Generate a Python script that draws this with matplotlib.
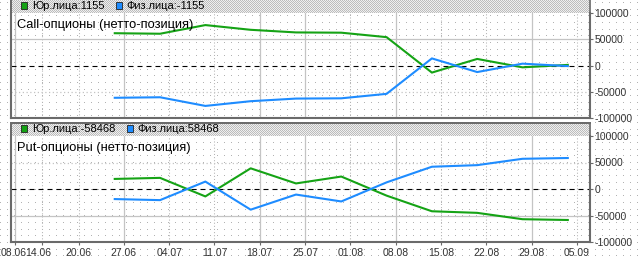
import numpy as np
import matplotlib
matplotlib.use('Agg')
import matplotlib.pyplot as plt
from matplotlib.patches import Patch
from matplotlib.transforms import ScaledTranslation

plt.rcParams['font.family'] = ['Liberation Sans', 'DejaVu Sans']
plt.rcParams['axes.unicode_minus'] = False

# data: weekly net positions (tuesdays), 2012
dates = ['2012-06-26', '2012-07-03', '2012-07-10', '2012-07-17', '2012-07-24', '2012-07-31',
         '2012-08-07', '2012-08-14', '2012-08-21', '2012-08-28', '2012-09-04']
call_jur = [61500, 60500, 77000, 68000, 63000, 62500, 54000, -13500, 12500, -3500, 1155]
call_fiz = [-61500, -60500, -77000, -68000, -63000, -62500, -54000, 13500, -12500, 3500, -1155]
put_jur = [19000, 21000, -14000, 39000, 10500, 23500, -12500, -42000, -45000, -57000, -58468]
put_fiz = [-19000, -21000, 14000, -39000, -10500, -23500, 12500, 42000, 45000, 57000, 58468]

tick_labels = ['08.06', '14.06', '20.06', '27.06', '04.07', '11.07', '18.07', '25.07',
               '01.08', '08.08', '15.08', '22.08', '29.08', '05.09']
solid_grid = ['08.06', '27.06', '18.07', '25.07', '08.08', '29.08']

# trading-day axis (weekends and 12.06 skipped)
start = '2012-06-08'
holidays = ['2012-06-12']
def bday(d):
    return np.busday_count(start, d, holidays=holidays)

x = [bday(d) for d in dates]
tick_dates = ['2012-%s-%s' % (t[3:], t[:2]) for t in tick_labels]
tick_x = [bday(d) for d in tick_dates]

W, H = 640, 262
fig = plt.figure(figsize=(W / 100, H / 100), dpi=100)
fig.patch.set_facecolor('white')

# background: dotted pattern + hatched header strips
bg = np.ones((H, W, 3))
rows = np.round(np.arange(2, H, 6.67)).astype(int)
cols = np.arange(0, W, 7)
bg[np.ix_(rows, cols)] = 0.7
for r0, r1 in [(0, 13), (122, 136)]:
    ii, jj = np.mgrid[r0:r1, 11:590]
    bg[r0:r1, 11:590] = np.where(((ii + jj) % 2 == 0)[..., None], 0.74, 0.94)
    bg[r0:r1, 10:12] = 0.42
    bg[r0:r1, 589:591] = 0.5
bg[122:124, 10:591] = 0.42
fig.figimage(bg, xo=0, yo=0, origin='upper', zorder=-10)

green = '#15a315'
blue = '#1e8cff'

def px_axes(top, bottom):
    return [11 / W, 1 - bottom / H, (590 - 11) / W, (bottom - top) / H]

panels = [
    (px_axes(13, 118), call_jur, call_fiz, 'Call-опционы (нетто-позиция)', True, False),
    (px_axes(136, 242), put_jur, put_fiz, 'Put-опционы (нетто-позиция)', False, True),
]

for rect, jur, fiz, title, top_solid, show_x in panels:
    ax = fig.add_axes(rect, zorder=1)
    ax.set_facecolor('none')
    ax.set_xlim(-0.45, 63.45)
    ax.set_ylim(-100000, 100000)

    # grid
    for t, tx in zip(tick_labels, tick_x):
        if t in solid_grid:
            ax.axvline(tx, color='#c4c4c4', lw=0.9, zorder=1)
        else:
            ax.axvline(tx, color='#b4b4b4', lw=0.75, ls=(0, (1, 2)), zorder=1)
    ax.axhline(50000, color='#c4c4c4', lw=0.9, ls='-' if top_solid else (0, (1, 2)), zorder=1)
    ax.axhline(-50000, color='#c4c4c4', lw=0.9, ls=(0, (1, 2)) if top_solid else '-', zorder=1)
    ax.axhline(0, color='black', lw=0.8, dashes=(4.5, 3.6), zorder=2)

    ax.plot(x, jur, color=green, lw=1.5, zorder=3)
    ax.plot(x, fiz, color=blue, lw=1.5, zorder=3)

    ax.text(6 / 579, 0.886, title, transform=ax.transAxes, fontsize=9.3,
            va='center', ha='left', zorder=4)

    handles = [Patch(facecolor=green, edgecolor='#222222', lw=0.6),
               Patch(facecolor=blue, edgecolor='#222222', lw=0.6)]
    labels = ['Юр.лица:%d' % jur[-1], 'Физ.лица:%d' % fiz[-1]]
    ax.legend(handles, labels, loc='center left', bbox_to_anchor=(10 / 579, 1.064),
              ncol=2, frameon=False, fontsize=8, handlelength=0.55, handleheight=0.55,
              handletextpad=0.45, columnspacing=1.0, borderpad=0, borderaxespad=0)

    for side in ['left', 'right', 'bottom']:
        ax.spines[side].set_color('#6a6a6a')
        ax.spines[side].set_linewidth(1.5)
    ax.spines['top'].set_visible(False)

    ax.yaxis.tick_right()
    ax.set_yticks([-100000, -50000, 0, 50000, 100000])
    ax.set_yticklabels(['-100000', '-50000', '0', '50000', '100000'])
    ax.tick_params(axis='y', direction='out', length=2.2, width=0.8, pad=1,
                   colors='#6a6a6a', labelcolor='#333333', labelsize=7.5)

    ax.set_xticks(tick_x)
    if show_x:
        ax.set_xticklabels(tick_labels)
        ax.tick_params(axis='x', direction='out', length=2.2, width=0.8, pad=2,
                       colors='#6a6a6a', labelcolor='#333333', labelsize=7.5)
        labs = ax.get_xticklabels()
        # first two labels are squeezed to the left edge
        labs[0].set_ha('left')
        labs[0].set_transform(labs[0].get_transform() + ScaledTranslation(-0.14, 0, fig.dpi_scale_trans))
        labs[1].set_transform(labs[1].get_transform() + ScaledTranslation(-0.04, 0, fig.dpi_scale_trans))
    else:
        ax.tick_params(axis='x', length=0, labelbottom=False)

fig.savefig('out.png', dpi=100)
